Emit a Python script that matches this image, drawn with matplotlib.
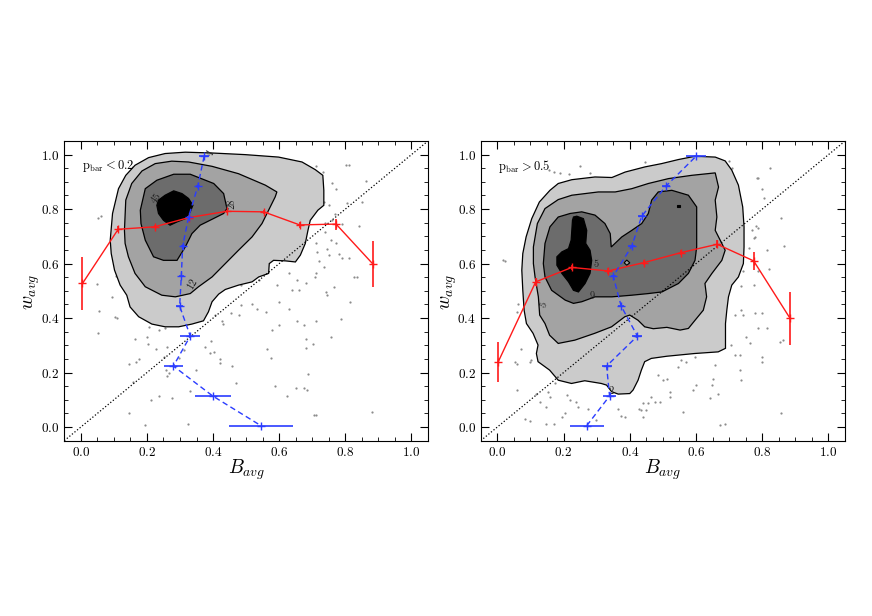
import numpy as np
import matplotlib
matplotlib.use("Agg")
import matplotlib.pyplot as plt
from matplotlib.ticker import MultipleLocator

plt.rcParams['font.family'] = 'serif'
plt.rcParams['font.serif'] = ['cmr10', 'DejaVu Serif']
plt.rcParams['mathtext.fontset'] = 'cm'
plt.rcParams['axes.unicode_minus'] = False
plt.rcParams['axes.formatter.use_mathtext'] = True

# ---------------- left panel (p_bar < 0.2) ----------------
left_red_x = [0.005, 0.113, 0.223, 0.327, 0.442, 0.553, 0.662, 0.772, 0.883]
left_red_y = [0.527, 0.726, 0.735, 0.769, 0.792, 0.790, 0.742, 0.745, 0.599]
left_red_err = [0.097, 0.011, 0.006, 0.006, 0.006, 0.008, 0.012, 0.020, 0.084]

left_blue_y = [0.994, 0.885, 0.771, 0.664, 0.554, 0.444, 0.334, 0.224, 0.114, 0.005]
left_blue_x = [0.373, 0.354, 0.326, 0.308, 0.304, 0.299, 0.331, 0.280, 0.399, 0.545]
left_blue_err = [0.015, 0.006, 0.006, 0.006, 0.008, 0.010, 0.030, 0.028, 0.054, 0.098]

# contour outlines (levels 4, 12, 28, 45)
left_c1 = [(0.089, 0.686), (0.096, 0.784), (0.114, 0.875), (0.136, 0.924), (0.164, 0.961),
           (0.205, 0.989), (0.255, 1.004), (0.316, 1.009), (0.397, 1.006), (0.497, 1.000),
           (0.598, 0.991), (0.669, 0.973), (0.709, 0.945), (0.732, 0.924), (0.735, 0.869),
           (0.735, 0.814), (0.717, 0.796), (0.694, 0.759), (0.687, 0.722), (0.679, 0.674),
           (0.664, 0.631), (0.649, 0.606), (0.619, 0.610), (0.583, 0.612), (0.570, 0.600),
           (0.568, 0.564), (0.538, 0.551), (0.518, 0.533), (0.477, 0.521), (0.437, 0.505),
           (0.417, 0.488), (0.397, 0.460), (0.386, 0.423), (0.371, 0.390), (0.336, 0.378),
           (0.296, 0.368), (0.255, 0.368), (0.215, 0.378), (0.175, 0.405), (0.149, 0.441),
           (0.139, 0.484), (0.119, 0.521), (0.102, 0.576), (0.092, 0.637)]
left_c2 = [(0.132, 0.722), (0.136, 0.833), (0.154, 0.894), (0.185, 0.940), (0.225, 0.967),
           (0.275, 0.976), (0.326, 0.973), (0.397, 0.957), (0.477, 0.930), (0.558, 0.888),
           (0.593, 0.863), (0.588, 0.845), (0.568, 0.796), (0.548, 0.747), (0.518, 0.698),
           (0.477, 0.649), (0.437, 0.600), (0.397, 0.551), (0.356, 0.515), (0.331, 0.490),
           (0.286, 0.478), (0.245, 0.484), (0.195, 0.515), (0.164, 0.564), (0.144, 0.625),
           (0.134, 0.674)]
left_c3 = [(0.180, 0.796), (0.195, 0.875), (0.230, 0.906), (0.281, 0.928), (0.331, 0.928),
           (0.402, 0.894), (0.432, 0.857), (0.442, 0.802), (0.432, 0.784), (0.381, 0.753),
           (0.361, 0.741), (0.336, 0.710), (0.316, 0.661), (0.291, 0.612), (0.250, 0.612),
           (0.220, 0.625), (0.195, 0.686), (0.182, 0.747)]
left_c4 = [(0.230, 0.814), (0.235, 0.833), (0.255, 0.851), (0.281, 0.867), (0.306, 0.857),
           (0.326, 0.839), (0.339, 0.814), (0.331, 0.790), (0.316, 0.765), (0.291, 0.753),
           (0.270, 0.741), (0.250, 0.759), (0.235, 0.784)]
left_labels = ['4', '12', '28', '45']
left_label_pos = [(0.392, 1.006, 60), (0.338, 0.524, 60), (0.457, 0.818, 90), (0.230, 0.839, 55)]

left_pts_x = [0.049, 0.094, 0.102, 0.109, 0.052, 0.056, 0.163, 0.175, 0.167, 0.147, 0.159, 0.145,
              0.193, 0.205, 0.200, 0.203, 0.227, 0.235, 0.256, 0.261, 0.251, 0.258, 0.266, 0.261,
              0.276, 0.235, 0.213, 0.298, 0.311, 0.323, 0.331, 0.349, 0.377, 0.392, 0.402, 0.420,
              0.422, 0.458, 0.468, 0.393, 0.407, 0.427, 0.430, 0.453, 0.478, 0.483, 0.486, 0.518,
              0.533, 0.559, 0.564, 0.574, 0.587, 0.599, 0.577, 0.599, 0.629, 0.625, 0.652, 0.675,
              0.685, 0.688, 0.680, 0.702, 0.705, 0.710, 0.655, 0.675, 0.680, 0.710, 0.741, 0.744,
              0.756, 0.766, 0.786, 0.813, 0.826, 0.836, 0.882, 0.498, 0.513, 0.540, 0.594, 0.655,
              0.680, 0.660, 0.640, 0.710, 0.708, 0.629,
              0.609, 0.712, 0.733, 0.801, 0.811, 0.759, 0.773, 0.862, 0.735, 0.752, 0.769, 0.806,
              0.850, 0.759, 0.791, 0.740, 0.738, 0.756, 0.771, 0.710, 0.715, 0.745, 0.752, 0.720,
              0.781, 0.791, 0.811, 0.840, 0.735, 0.053, 0.060, 0.105]
left_pts_y = [0.524, 0.478, 0.405, 0.401, 0.347, 0.425, 0.325, 0.248, 0.240, 0.231, 0.166, 0.050,
              0.007, 0.368, 0.331, 0.304, 0.286, 0.356, 0.365, 0.295, 0.258, 0.209, 0.197, 0.187,
              0.105, 0.115, 0.099, 0.255, 0.282, 0.011, 0.133, 0.209, 0.295, 0.273, 0.275, 0.248,
              0.236, 0.225, 0.160, 0.315, 0.411, 0.390, 0.380, 0.417, 0.411, 0.447, 0.523, 0.453,
              0.435, 0.423, 0.288, 0.255, 0.150, 0.376, 0.358, 0.460, 0.435, 0.114, 0.145, 0.142,
              0.136, 0.194, 0.292, 0.304, 0.044, 0.046, 0.389, 0.376, 0.325, 0.389, 0.496, 0.484,
              0.331, 0.515, 0.398, 0.460, 0.551, 0.549, 0.056, 0.555, 0.551, 0.539, 0.521, 0.539,
              0.527, 0.502, 0.502, 0.564, 0.551, 0.564,
              0.985, 0.960, 0.936, 0.961, 0.961, 0.896, 0.872, 0.903, 0.826, 0.814, 0.781, 0.823,
              0.826, 0.759, 0.747, 0.749, 0.716, 0.686, 0.674, 0.674, 0.643, 0.655, 0.631, 0.610,
              0.637, 0.619, 0.619, 0.737, 0.588, 0.768, 0.775, 0.555]

# ---------------- right panel (p_bar > 0.5) ----------------
right_red_x = [0.003, 0.116, 0.225, 0.335, 0.444, 0.554, 0.664, 0.774, 0.884]
right_red_y = [0.240, 0.533, 0.586, 0.573, 0.604, 0.640, 0.671, 0.610, 0.399]
right_red_err = [0.073, 0.015, 0.008, 0.010, 0.010, 0.010, 0.015, 0.033, 0.097]

right_blue_y = [0.005, 0.114, 0.224, 0.334, 0.444, 0.554, 0.664, 0.774, 0.884, 0.994]
right_blue_x = [0.270, 0.339, 0.330, 0.423, 0.374, 0.350, 0.406, 0.436, 0.509, 0.600]
right_blue_err = [0.051, 0.020, 0.015, 0.015, 0.010, 0.007, 0.010, 0.010, 0.012, 0.029]

right_c1 = [(0.074, 0.576), (0.077, 0.637), (0.087, 0.698), (0.104, 0.765), (0.127, 0.826),
            (0.159, 0.869), (0.184, 0.894), (0.225, 0.908), (0.295, 0.918), (0.346, 0.916),
            (0.386, 0.936), (0.446, 0.955), (0.496, 0.967), (0.547, 0.982), (0.597, 0.994),
            (0.658, 0.991), (0.688, 0.977), (0.708, 0.943), (0.728, 0.888), (0.741, 0.808),
            (0.745, 0.735), (0.745, 0.661), (0.743, 0.600), (0.728, 0.551), (0.708, 0.521),
            (0.698, 0.478), (0.693, 0.429), (0.689, 0.380), (0.689, 0.331), (0.689, 0.289),
            (0.667, 0.276), (0.596, 0.270), (0.512, 0.260), (0.465, 0.252), (0.445, 0.240),
            (0.435, 0.209), (0.425, 0.172), (0.410, 0.136), (0.400, 0.123), (0.365, 0.121),
            (0.345, 0.130), (0.330, 0.154), (0.314, 0.160), (0.264, 0.170), (0.224, 0.160),
            (0.184, 0.172), (0.158, 0.209), (0.123, 0.240), (0.118, 0.270), (0.123, 0.301),
            (0.108, 0.344), (0.088, 0.380), (0.081, 0.429), (0.077, 0.502)]
right_c2 = [(0.109, 0.661), (0.121, 0.747), (0.144, 0.802), (0.184, 0.835), (0.225, 0.851),
            (0.265, 0.857), (0.305, 0.863), (0.356, 0.863), (0.406, 0.875), (0.456, 0.894),
            (0.517, 0.912), (0.587, 0.924), (0.658, 0.933), (0.668, 0.881), (0.658, 0.833),
            (0.663, 0.771), (0.658, 0.722), (0.673, 0.686), (0.688, 0.649), (0.678, 0.612),
            (0.648, 0.564), (0.627, 0.527), (0.632, 0.478), (0.622, 0.429), (0.597, 0.392),
            (0.577, 0.362), (0.552, 0.356), (0.512, 0.366), (0.471, 0.361), (0.445, 0.368),
            (0.425, 0.392), (0.400, 0.411), (0.385, 0.405), (0.345, 0.368), (0.294, 0.344),
            (0.234, 0.319), (0.184, 0.307), (0.158, 0.337), (0.144, 0.380), (0.128, 0.411),
            (0.124, 0.478), (0.114, 0.551), (0.109, 0.600)]
right_c3 = [(0.139, 0.600), (0.144, 0.674), (0.159, 0.735), (0.184, 0.771), (0.220, 0.784),
            (0.255, 0.790), (0.295, 0.778), (0.325, 0.747), (0.341, 0.710), (0.344, 0.661),
            (0.376, 0.698), (0.406, 0.722), (0.436, 0.747), (0.456, 0.784), (0.466, 0.833),
            (0.486, 0.863), (0.527, 0.869), (0.577, 0.851), (0.602, 0.808), (0.602, 0.735),
            (0.602, 0.661), (0.597, 0.612), (0.577, 0.564), (0.547, 0.527), (0.497, 0.496),
            (0.456, 0.490), (0.406, 0.484), (0.346, 0.478), (0.295, 0.478), (0.255, 0.460),
            (0.230, 0.454), (0.205, 0.466), (0.164, 0.502), (0.144, 0.551)]
right_c4 = [(0.230, 0.771), (0.240, 0.774), (0.260, 0.765), (0.270, 0.722), (0.267, 0.674),
            (0.280, 0.649), (0.285, 0.612), (0.280, 0.564), (0.265, 0.527), (0.245, 0.496),
            (0.230, 0.502), (0.215, 0.533), (0.195, 0.564), (0.180, 0.594), (0.180, 0.625),
            (0.195, 0.643), (0.215, 0.655), (0.223, 0.686), (0.225, 0.722), (0.227, 0.759)]
right_c4_dot = [(0.542, 0.815), (0.552, 0.815), (0.552, 0.807), (0.542, 0.807)]
right_c2_hole = [(0.383, 0.603), (0.391, 0.613), (0.400, 0.603), (0.391, 0.594)]
right_labels = ['2', '5', '9', '5']
right_label_pos = [(0.343, 0.130, 0), (0.141, 0.450, 70), (0.288, 0.480, 0), (0.298, 0.597, 0)]

right_pts_x = [0.063, 0.071, 0.053, 0.058, 0.098, 0.103, 0.058, 0.118, 0.128, 0.148, 0.159, 0.153,
               0.174, 0.209, 0.219, 0.204, 0.194, 0.239, 0.244, 0.171, 0.148, 0.098, 0.083, 0.274,
               0.299, 0.365, 0.373, 0.385, 0.428, 0.435, 0.440, 0.440, 0.450, 0.455, 0.465, 0.475,
               0.490, 0.521, 0.521, 0.501, 0.485, 0.511, 0.556, 0.571, 0.596, 0.591, 0.601, 0.641,
               0.647, 0.657, 0.652, 0.667, 0.672, 0.687, 0.707, 0.717, 0.732, 0.732, 0.737, 0.752,
               0.762, 0.777, 0.798, 0.787, 0.813, 0.798, 0.798, 0.853, 0.863, 0.858, 0.717, 0.742,
               0.737, 0.561, 0.546,
               0.701, 0.708, 0.822, 0.783, 0.788, 0.798, 0.805, 0.856, 0.768, 0.781, 0.786, 0.774,
               0.777, 0.761, 0.814, 0.866, 0.743, 0.786, 0.821, 0.736, 0.775,
               0.190, 0.215, 0.250, 0.280, 0.446, 0.155, 0.170, 0.018, 0.023, 0.059]
right_pts_y = [0.453, 0.288, 0.240, 0.231, 0.240, 0.246, 0.136, 0.123, 0.093, 0.075, 0.111, 0.130,
               0.160, 0.117, 0.099, 0.050, 0.038, 0.093, 0.075, 0.013, 0.013, 0.023, 0.028, 0.068,
               0.026, 0.068, 0.040, 0.038, 0.068, 0.062, 0.038, 0.087, 0.062, 0.087, 0.111, 0.093,
               0.093, 0.111, 0.130, 0.172, 0.191, 0.178, 0.246, 0.240, 0.258, 0.136, 0.154, 0.105,
               0.154, 0.227, 0.178, 0.123, 0.007, 0.013, 0.301, 0.264, 0.264, 0.209, 0.172, 0.331,
               0.307, 0.417, 0.417, 0.362, 0.362, 0.258, 0.240, 0.313, 0.319, 0.050, 0.411, 0.411,
               0.429, 0.056, 0.221,
               0.977, 0.952, 0.951, 0.914, 0.914, 0.872, 0.839, 0.768, 0.722, 0.737, 0.732, 0.694,
               0.698, 0.659, 0.649, 0.664, 0.573, 0.572, 0.582, 0.518, 0.523,
               0.933, 0.930, 0.957, 0.933, 0.973, 0.945, 0.935, 0.612, 0.609, 0.423]

fill_colors = ['#cbcbcb', '#a3a3a3', '#6c6c6c', '#000000']


def draw_panel(ax, contours, labels, label_pos, pts_x, pts_y,
               rx, ry, rerr, bx, by, berr, tag):
    ax.plot(pts_x, pts_y, 'o', color='#8c8c8c', ms=1.6, mew=0, zorder=1)
    for poly, col in zip(contours, fill_colors):
        xs = [p[0] for p in poly]
        ys = [p[1] for p in poly]
        ax.fill(xs, ys, facecolor=col, edgecolor='black', lw=0.9, zorder=2)
    for lab, (lx, ly, rot) in zip(labels, label_pos):
        ax.text(lx, ly, lab, fontsize=7.5, color='#202020', rotation=rot,
                ha='center', va='center', zorder=3)
    ax.plot([-0.05, 1.05], [-0.05, 1.05], ':', color='black', lw=0.9, zorder=4)
    ax.errorbar(rx, ry, yerr=rerr, fmt='-+', color='#ff1a1a', lw=1.0,
                elinewidth=1.2, ms=6, mew=1.0, capsize=0, zorder=5)
    ax.errorbar(bx, by, xerr=berr, fmt='--+', color='#2a3cff', lw=1.0,
                elinewidth=1.2, ms=6, mew=1.0, capsize=0, dashes=(4, 2.5), zorder=5)
    ax.set_xlim(-0.05, 1.05)
    ax.set_ylim(-0.05, 1.05)
    ax.xaxis.set_major_locator(MultipleLocator(0.2))
    ax.yaxis.set_major_locator(MultipleLocator(0.2))
    ax.xaxis.set_minor_locator(MultipleLocator(0.05))
    ax.yaxis.set_minor_locator(MultipleLocator(0.05))
    ax.tick_params(which='both', direction='in', top=True, right=True, labelsize=9.5)
    ax.tick_params(which='major', length=6, width=0.8)
    ax.tick_params(which='minor', length=3, width=0.6)
    ax.set_xlabel(r'$B_{avg}$', fontsize=14)
    ax.set_ylabel(r'$w_{avg}$', fontsize=14)
    ax.xaxis.set_label_coords(0.5, -0.055)
    ax.yaxis.set_label_coords(-0.06, 0.496)
    ax.text(0.048, 0.915, tag, transform=ax.transAxes, fontsize=9,
            ha='left', va='center')


fig = plt.figure(figsize=(8.72, 6.16), dpi=100)
ax1 = fig.add_axes([0.0737, 0.2846, 0.4171, 0.4865])
ax2 = fig.add_axes([0.5513, 0.2846, 0.4178, 0.4865])

draw_panel(ax1, [left_c1, left_c2, left_c3, left_c4], left_labels, left_label_pos,
           left_pts_x, left_pts_y, left_red_x, left_red_y, left_red_err,
           left_blue_x, left_blue_y, left_blue_err, r'$\mathrm{p_{bar}} < 0.2$')
draw_panel(ax2, [right_c1, right_c2, right_c3, right_c4], right_labels, right_label_pos,
           right_pts_x, right_pts_y, right_red_x, right_red_y, right_red_err,
           right_blue_x, right_blue_y, right_blue_err, r'$\mathrm{p_{bar}} > 0.5$')
ax2.fill([p[0] for p in right_c4_dot], [p[1] for p in right_c4_dot],
         facecolor='black', edgecolor='black', lw=0.8, zorder=2)
ax2.fill([p[0] for p in right_c2_hole], [p[1] for p in right_c2_hole],
         facecolor='#a3a3a3', edgecolor='black', lw=0.8, zorder=2)

fig.savefig('out.png', dpi=100)
